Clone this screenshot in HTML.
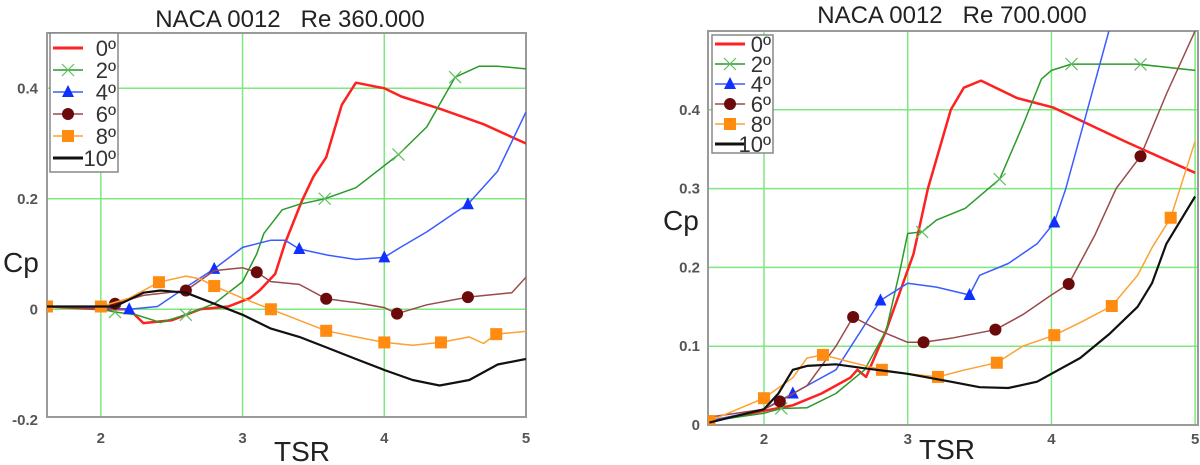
<!DOCTYPE html>
<html><head><meta charset="utf-8">
<style>
html,body{margin:0;padding:0;background:#fff;}
body{width:1200px;height:465px;overflow:hidden;font-family:"Liberation Sans",sans-serif;}
svg{display:block;}
</style></head>
<body>
<svg id="fig" width="1200" height="465" viewBox="0 0 1200 465" xmlns="http://www.w3.org/2000/svg"></svg>
<script>
// ---------- data: left chart (Re 360.000) ----------
const L_red_x = [1.62,2.0,2.2,2.3,2.5,2.7,2.9,3.05,3.12,3.23,3.3,3.42,3.5,3.59,3.7,3.8,4.0,4.12,4.39,4.7,5.0];
const L_red_y = [0.005,0.0,0.0,-0.025,-0.02,0.0,0.005,0.02,0.034,0.064,0.12,0.197,0.24,0.275,0.37,0.41,0.40,0.385,0.363,0.335,0.30];
const L_grn_x = [1.62,2.0,2.1,2.25,2.42,2.6,2.8,3.0,3.1,3.15,3.28,3.4,3.58,3.8,4.0,4.1,4.3,4.5,4.67,4.8,5.0];
const L_grn_y = [0.005,0.0,-0.005,-0.01,-0.024,-0.01,0.01,0.05,0.1,0.137,0.18,0.19,0.2,0.22,0.26,0.28,0.33,0.42,0.44,0.44,0.435];
const L_blu_x = [1.62,2.0,2.2,2.4,2.6,2.8,3.0,3.2,3.3,3.4,3.6,3.8,4.0,4.1,4.3,4.5,4.59,4.8,5.0];
const L_blu_y = [0.005,0.003,0.0,0.005,0.04,0.073,0.112,0.125,0.125,0.109,0.098,0.09,0.094,0.11,0.14,0.175,0.19,0.25,0.357];
const L_brn_x = [1.62,2.0,2.1,2.3,2.6,2.8,3.0,3.1,3.2,3.4,3.59,3.8,4.0,4.09,4.3,4.59,4.9,5.0];
const L_brn_y = [0.005,0.0,0.01,0.025,0.034,0.07,0.075,0.067,0.05,0.045,0.019,0.012,0.003,-0.008,0.008,0.022,0.03,0.058];
const L_org_x = [1.62,2.0,2.2,2.41,2.6,2.7,2.8,3.0,3.2,3.4,3.59,3.8,4.0,4.2,4.4,4.6,4.7,4.79,5.0];
const L_org_y = [0.005,0.005,0.02,0.049,0.06,0.055,0.042,0.02,0.0,-0.02,-0.039,-0.05,-0.06,-0.065,-0.06,-0.05,-0.062,-0.045,-0.04];
const L_blk_x = [1.62,2.1,2.3,2.42,2.6,2.8,3.0,3.2,3.4,3.6,3.8,4.0,4.2,4.39,4.6,4.8,5.0];
const L_blk_y = [0.005,0.005,0.03,0.034,0.03,0.01,-0.01,-0.035,-0.05,-0.07,-0.09,-0.11,-0.128,-0.138,-0.128,-0.1,-0.09];
const L_grn_mk = [2.1,2.6,3.58,4.1,4.5];
const L_blu_mk = [2.2,2.8,3.4,4.0,4.59];
const L_brn_mk = [2.1,2.6,3.1,3.59,4.09,4.59];
const L_org_mk = [1.62,2.0,2.41,2.8,3.2,3.59,4.0,4.4,4.79];
// ---------- data: right chart (Re 700.000) ----------
const R_red_x = [1.62,2.0,2.2,2.4,2.6,2.65,2.71,2.85,3.04,3.14,3.3,3.39,3.51,3.76,4.01,4.51,5.0];
const R_red_y = [0.005,0.018,0.025,0.04,0.06,0.07,0.061,0.12,0.217,0.30,0.40,0.428,0.437,0.415,0.403,0.36,0.32];
const R_grn_x = [1.62,2.0,2.12,2.3,2.5,2.7,2.85,2.95,3.0,3.1,3.2,3.4,3.64,3.8,3.93,4.0,4.14,4.6,5.0];
const R_grn_y = [0.005,0.015,0.021,0.022,0.04,0.07,0.12,0.2,0.243,0.245,0.26,0.275,0.312,0.38,0.439,0.45,0.458,0.458,0.45];
const R_blu_x = [1.62,2.0,2.2,2.5,2.81,3.0,3.2,3.43,3.5,3.7,3.9,4.02,4.1,4.25,4.4];
const R_blu_y = [0.005,0.02,0.04,0.07,0.158,0.18,0.175,0.165,0.19,0.205,0.23,0.257,0.3,0.4,0.5];
const R_brn_x = [1.62,2.0,2.11,2.3,2.5,2.62,2.8,3.0,3.11,3.3,3.61,3.8,4.0,4.12,4.3,4.45,4.62,4.8,5.0];
const R_brn_y = [0.01,0.02,0.03,0.05,0.1,0.137,0.12,0.105,0.105,0.11,0.121,0.14,0.165,0.179,0.24,0.3,0.341,0.42,0.5];
const R_org_x = [1.62,2.0,2.2,2.3,2.41,2.6,2.82,3.0,3.21,3.4,3.62,3.8,4.02,4.2,4.42,4.6,4.7,4.83,5.0];
const R_org_y = [0.005,0.034,0.06,0.085,0.089,0.08,0.07,0.065,0.061,0.07,0.079,0.1,0.114,0.13,0.151,0.19,0.225,0.263,0.36];
const R_blk_x = [1.62,2.0,2.1,2.2,2.3,2.5,2.7,3.0,3.3,3.5,3.7,3.9,4.0,4.2,4.4,4.6,4.7,4.8,5.0];
const R_blk_y = [0.003,0.02,0.04,0.07,0.075,0.077,0.072,0.065,0.055,0.048,0.047,0.055,0.065,0.085,0.115,0.15,0.18,0.23,0.29];
const R_grn_mk = [2.12,3.1,3.64,4.14,4.62];
const R_blu_mk = [2.2,2.81,3.43,4.02];
const R_brn_mk = [2.11,2.62,3.11,3.61,4.12,4.62];
const R_org_mk = [1.62,2.0,2.41,2.82,3.21,3.62,4.02,4.42,4.83];
const legendLabels = ["0º","2º","4º","6º","8º","10º"];
const L_yticks = [0.4,0.2,0,-0.2];
const L_ytickText = ["0.4","0.2","0","-0.2"];
const R_yticks = [0.4,0.3,0.2,0.1,0];
const R_ytickText = ["0.4","0.3","0.2","0.1","0"];
const xticks = [2,3,4,5];

const NS = "http://www.w3.org/2000/svg";
const svg = document.getElementById('fig');
function mk(tag, attrs, parent){
  const e = document.createElementNS(NS, tag);
  for (const k in attrs) e.setAttribute(k, attrs[k]);
  (parent||svg).appendChild(e); return e;
}
function interp(xs, ys, x){
  for (let i=0;i<xs.length-1;i++){ if (x>=xs[i] && x<=xs[i+1]) { const t=(x-xs[i])/(xs[i+1]-xs[i]); return ys[i]+t*(ys[i+1]-ys[i]); } }
  return ys[ys.length-1];
}
function marker(g, type, color, cx, cy){
  let m;
  if (type==='x'){ m = mk('path',{d:`M${cx-6},${cy-6}L${cx+6},${cy+6}M${cx-6},${cy+6}L${cx+6},${cy-6}`,stroke:color,'stroke-width':1.2,fill:'none'},g); }
  else if (type==='tri'){ m = mk('polygon',{points:`${cx},${cy-7} ${cx-6},${cy+5} ${cx+6},${cy+5}`,fill:color},g); }
  else if (type==='circ'){ m = mk('circle',{cx:cx,cy:cy,r:6,fill:color},g); }
  else { m = mk('rect',{x:cx-6,y:cy-6,width:12,height:12,fill:color},g); }
  return m;
}
function chart(c){
  const g = mk('g',{});
  
  
  const sx = v => c.x0 + (v - c.xmin)/(c.xmax - c.xmin)*(c.x1 - c.x0);
  const sy = v => c.y1 - (v - c.ymin)/(c.ymax - c.ymin)*(c.y1 - c.y0);
  const cp = mk('clipPath',{id:c.name+'-clip'},g);
  mk('rect',{x:c.x0,y:c.y0,width:c.x1-c.x0,height:c.y1-c.y0},cp);
  xticks.forEach(t=>{ if (t<c.xmax){ const l=mk('line',{x1:sx(t),x2:sx(t),y1:c.y0,y2:c.y1,stroke:'#7de87d','stroke-width':1.5},g);
      } });
  c.yt.forEach(t=>{ if (t>c.ymin+0.001){ const l=mk('line',{x1:c.x0,x2:c.x1,y1:sy(t),y2:sy(t),stroke:'#7de87d','stroke-width':1.5},g);
      } });
  const frame = mk('rect',{x:c.x0,y:c.y0,width:c.x1-c.x0,height:c.y1-c.y0,fill:'none',stroke:'#9a9a9a','stroke-width':2},g);
   
  c.yt.forEach((t,i)=>{ const tx=mk('text',{x:c.ylabX,y:sy(t)+5,'text-anchor':'end','font-size':15,'font-weight':'bold',fill:'#555'},g); tx.textContent=c.ytt[i];
      });
  xticks.forEach(t=>{ const tx=mk('text',{x:sx(t),y:c.xlabY,'text-anchor':'middle','font-size':15,'font-weight':'bold',fill:'#555'},g); tx.textContent=String(t);
      });
  const ti = mk('text',{x:c.titleX,y:c.titleY,'text-anchor':'middle','font-size':24,fill:'#222'},g); ti.textContent=c.title;
   
  const yl = mk('text',{x:c.cpX,y:c.cpY,'font-size':28,fill:'#222'},g); yl.textContent='Cp';
   
  const xl = mk('text',{x:c.tsrX,y:c.tsrY,'text-anchor':'middle','font-size':28,fill:'#222'},g); xl.textContent='TSR';
   
  const sg = mk('g',{'clip-path':`url(#${c.name}-clip)`},g);
  c.series.forEach(s=>{
    const d = s.x.map((v,i)=>(i?'L':'M')+sx(v).toFixed(1)+','+sy(s.y[i]).toFixed(1)).join('');
    const p = mk('path',{d:d,fill:'none',stroke:s.color,'stroke-width':s.w,'stroke-linejoin':'round'},sg);
     
    (s.mk||[]).forEach(mx=>{ const m=marker(sg,s.type,s.mcolor||s.color,sx(mx),sy(interp(s.x,s.y,mx)));
        });
  });
  const lg = mk('g',{},g);
   
  mk('rect',{x:c.lx,y:c.ly,width:c.lw,height:c.lh,fill:'#fff',stroke:'#888','stroke-width':1.5},lg);
  c.series.forEach((s,i)=>{
    const yy = c.ly + c.l0 + i*c.ld;
    const e = mk('g',{},lg);
     
    mk('line',{x1:c.lx+3,x2:c.lx+33,y1:yy,y2:yy,stroke:s.color,'stroke-width':s.type?1.5:3},e);
    if (s.type) marker(e,s.type,s.mcolor||s.color,c.lx+18,yy);
    const t = mk('text',{x:c.lx+c.lw-2,y:yy+8,'text-anchor':'end','font-size':22,fill:'#333'},e); t.textContent=legendLabels[i];
  });
}
chart({name:'chart-re360000', title:'NACA 0012\u00a0\u00a0\u00a0Re 360.000', titleX:290, titleY:27,
  x0:47,x1:526,y0:33,y1:417,xmin:1.62,xmax:5.0,ymin:-0.195,ymax:0.5,
  yt:L_yticks, ytt:L_ytickText, ylabX:38, xlabY:443, cpX:3, cpY:272, tsrX:302, tsrY:461,
  lx:50, ly:33, lw:68, lh:139, l0:15, ld:22,
  series:[
    {label:'0deg',x:L_red_x,y:L_red_y,color:'#ff2020',w:2.5},
    {label:'2deg',x:L_grn_x,y:L_grn_y,color:'#2a9a2a',w:1.5,type:'x',mk:L_grn_mk,mcolor:'#5fbf5f'},
    {label:'4deg',x:L_blu_x,y:L_blu_y,color:'#3a5cff',w:1.5,type:'tri',mk:L_blu_mk,mcolor:'#1030ff'},
    {label:'6deg',x:L_brn_x,y:L_brn_y,color:'#9a4a4a',w:1.5,type:'circ',mk:L_brn_mk,mcolor:'#6b0a0a'},
    {label:'8deg',x:L_org_x,y:L_org_y,color:'#ffa030',w:1.5,type:'sq',mk:L_org_mk,mcolor:'#ff8c10'},
    {label:'10deg',x:L_blk_x,y:L_blk_y,color:'#111',w:2.2}
  ]});
chart({name:'chart-re700000', title:'NACA 0012\u00a0\u00a0\u00a0Re 700.000', titleX:952, titleY:23,
  x0:708,x1:1198,y0:31,y1:425,xmin:1.61,xmax:5.02,ymin:0,ymax:0.5,
  yt:R_yticks, ytt:R_ytickText, ylabX:700, xlabY:444, cpX:663, cpY:230, tsrX:947, tsrY:459,
  lx:712, ly:35, lw:61, lh:118, l0:9, ld:20,
  series:[
    {label:'0deg',x:R_red_x,y:R_red_y,color:'#ff2020',w:2.5},
    {label:'2deg',x:R_grn_x,y:R_grn_y,color:'#2a9a2a',w:1.5,type:'x',mk:R_grn_mk,mcolor:'#5fbf5f'},
    {label:'4deg',x:R_blu_x,y:R_blu_y,color:'#3a5cff',w:1.5,type:'tri',mk:R_blu_mk,mcolor:'#1030ff'},
    {label:'6deg',x:R_brn_x,y:R_brn_y,color:'#9a4a4a',w:1.5,type:'circ',mk:R_brn_mk,mcolor:'#6b0a0a'},
    {label:'8deg',x:R_org_x,y:R_org_y,color:'#ffa030',w:1.5,type:'sq',mk:R_org_mk,mcolor:'#ff8c10'},
    {label:'10deg',x:R_blk_x,y:R_blk_y,color:'#111',w:2.2}
  ]});
</script>
</body></html>
